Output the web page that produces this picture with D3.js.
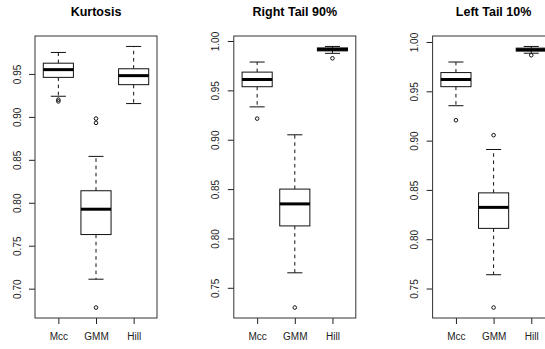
<!DOCTYPE html>
<html>
<head>
<meta charset="utf-8">
<script src="https://cdnjs.cloudflare.com/ajax/libs/d3/7.8.5/d3.min.js"></script>
<style>
  body { margin: 0; background: #fff; }
  svg { display: block; font-family: "Liberation Sans", Arial, Helvetica, sans-serif; }
</style>
</head>
<body>
<svg id="chart" width="545" height="349"></svg>
<script>
// --- data ---
const methods = ["Mcc", "GMM", "Hill"];
const panelTitles = ["Kurtosis", "Right Tail 90%", "Left Tail 10%"];

// five numbers per method: [lower whisker, Q1, median, Q3, upper whisker]
const kurtosisStats = [
    [0.924, 0.946, 0.955, 0.9625, 0.975],
    [0.711, 0.763, 0.7925, 0.814, 0.854],
    [0.9155, 0.9375, 0.948, 0.956, 0.982]
];
const kurtosisOutliers = [[0.918, 0.920], [0.898, 0.893, 0.678], []];

const rightTailStats = [
    [0.9333, 0.9537, 0.961, 0.9685, 0.9787],
    [0.7652, 0.8127, 0.835, 0.850, 0.905],
    [0.9875, 0.990, 0.9915, 0.993, 0.9945]
];
const rightTailOutliers = [[0.9214], [0.730], [0.9825]];

const leftTailStats = [
    [0.9354, 0.9547, 0.962, 0.969, 0.9797],
    [0.764, 0.811, 0.8323, 0.847, 0.891],
    [0.9886, 0.9908, 0.9922, 0.9938, 0.9955]
];
const leftTailOutliers = [[0.9207], [0.9055, 0.7307], [0.9866]];

const kurtosisTicks = [0.70, 0.75, 0.80, 0.85, 0.90, 0.95];
const tailTicks = [0.75, 0.80, 0.85, 0.90, 0.95, 1.00];

const panels = [
    {title: panelTitles[0], stats: kurtosisStats, outliers: kurtosisOutliers, ticks: kurtosisTicks},
    {title: panelTitles[1], stats: rightTailStats, outliers: rightTailOutliers, ticks: tailTicks},
    {title: panelTitles[2], stats: leftTailStats, outliers: leftTailOutliers, ticks: tailTicks}
];

// --- layout (R mfrow=c(1,3), right part cropped) ---
const plotTop = 36, plotBottom = 318, plotW = 122;
const firstLeft = 35, panelStep = 198.8;

const svg = d3.select("#chart");

panels.forEach((p, i) => {
    const left = firstLeft + i * panelStep;
    const g = svg.append("g");

    // y domain like R: data range extended by 4% each side
    const allVals = p.stats.flat().concat(p.outliers.flat());
    const lo = d3.min(allVals), hi = d3.max(allVals);
    const pad = (hi - lo) * 0.04;

    const y = d3.scaleLinear()
        .domain([lo - pad, hi + pad])
        .range([plotBottom, plotTop]);

    const x = d3.scalePoint()
        .domain(methods)
        .range([left, left + plotW])
        .padding(0.62);

    const boxW = x.step() * 0.8;
    const capW = boxW * 0.5;

    // title
    g.append("text")
        .attr("x", left + plotW / 2)
        .attr("y", 16)
        .attr("text-anchor", "middle")
        .attr("font-weight", "bold")
        .attr("font-size", "12.5px")
        .text(p.title);

    // y axis
    const yAxis = g.append("g")
        .attr("transform", `translate(${left},0)`)
        .call(d3.axisLeft(y).tickValues(p.ticks).tickFormat(d3.format(".2f")).tickSize(6));
    yAxis.select(".domain").remove();
    yAxis.selectAll("line").attr("stroke", "#222");
    yAxis.selectAll("text")
        .attr("transform", "rotate(-90)")
        .attr("text-anchor", "middle")
        .attr("x", 0)
        .attr("y", -14.5)
        .attr("dy", 0)
        .attr("font-size", "10px")
        .attr("font-family", "Liberation Sans, Arial, sans-serif")
        .attr("fill", "#222");

    // x axis
    const xAxis = g.append("g")
        .attr("transform", `translate(0,${plotBottom})`)
        .call(d3.axisBottom(x).tickSize(6).tickPadding(9.3));
    xAxis.select(".domain").remove();
    xAxis.selectAll("line").attr("stroke", "#222");
    xAxis.selectAll("text")
        .attr("font-size", "10px")
        .attr("font-family", "Liberation Sans, Arial, sans-serif")
        .attr("fill", "#222");

    // boxes
    const boxes = g.selectAll(".box")
        .data(p.stats.map((s, k) => ({name: methods[k], s: s, out: p.outliers[k]})))
        .enter().append("g")
        .attr("class", "box");

    // dashed whiskers
    boxes.append("line")
        .attr("x1", d => x(d.name)).attr("x2", d => x(d.name))
        .attr("y1", d => y(d.s[3])).attr("y2", d => y(d.s[4]))
        .attr("stroke", "#111").attr("stroke-dasharray", "3.6,3.6");
    boxes.append("line")
        .attr("x1", d => x(d.name)).attr("x2", d => x(d.name))
        .attr("y1", d => y(d.s[1])).attr("y2", d => y(d.s[0]))
        .attr("stroke", "#111").attr("stroke-dasharray", "3.6,3.6");

    // staples
    [0, 4].forEach(k => {
        boxes.append("line")
            .attr("x1", d => x(d.name) - capW / 2).attr("x2", d => x(d.name) + capW / 2)
            .attr("y1", d => y(d.s[k])).attr("y2", d => y(d.s[k]))
            .attr("stroke", "#111");
    });

    // box body
    boxes.append("rect")
        .attr("x", d => x(d.name) - boxW / 2)
        .attr("y", d => y(d.s[3]))
        .attr("width", boxW)
        .attr("height", d => y(d.s[1]) - y(d.s[3]))
        .attr("fill", "#fff")
        .attr("stroke", "#111");

    // median
    boxes.append("line")
        .attr("x1", d => x(d.name) - boxW / 2).attr("x2", d => x(d.name) + boxW / 2)
        .attr("y1", d => y(d.s[2])).attr("y2", d => y(d.s[2]))
        .attr("stroke", "#000").attr("stroke-width", 3);

    // outliers
    boxes.selectAll("circle")
        .data(d => d.out.map(v => ({name: d.name, v: v})))
        .enter().append("circle")
        .attr("cx", d => x(d.name))
        .attr("cy", d => y(d.v))
        .attr("r", 1.8)
        .attr("fill", "none")
        .attr("stroke", "#111");

    // frame
    g.append("rect")
        .attr("x", left).attr("y", plotTop)
        .attr("width", plotW).attr("height", plotBottom - plotTop)
        .attr("fill", "none")
        .attr("stroke", "#333");
});
</script>
</body>
</html>
